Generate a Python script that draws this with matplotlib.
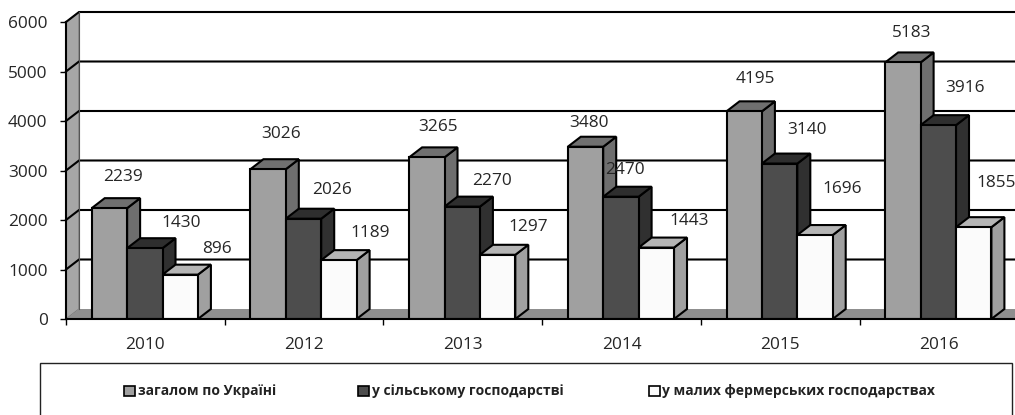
import matplotlib
matplotlib.use("Agg")
import matplotlib.pyplot as plt
from matplotlib.patches import Polygon, Rectangle

plt.rcParams['font.family'] = ['Open Sans', 'DejaVu Sans']

years = ["2010", "2012", "2013", "2014", "2015", "2016"]
total = [2239, 3026, 3265, 3480, 4195, 5183]
agriculture = [1430, 2026, 2270, 2470, 3140, 3916]
small_farms = [896, 1189, 1297, 1443, 1696, 1855]
series_names = ["загалом по Україні", "у сільському господарстві", "у малих фермерських господарствах"]
y_ticks = [0, 1000, 2000, 3000, 4000, 5000, 6000]

# label offsets from the bar top, in pixels
total_off = [(14, 31), (13, 35), (11, 30), (3, 24), (11, 32), (9, 29)]
agri_off = [(36, 25), (28, 29), (30, 26), (4, 27), (27, 34), (27, 37)]
small_off = [(37, 26), (31, 27), (31, 28), (33, 27), (27, 46), (22, 44)]

W, H = 1015, 415
fig = plt.figure(figsize=(W / 100, H / 100), dpi=100)
# px layout: y=0 at 319, 6000 at 22, x=0 at 66
ax = fig.add_axes([66 / W, 1 - 319 / H, (W - 66) / W, (319 - 22) / H])
xmax = (W - 66) / 158.7
ax.set_xlim(0, xmax)
ax.set_ylim(0, 6000)

dx = 13 / 158.7
dy = 10 / 49.5 * 1000
bar_w = 35.4 / 158.7
start = 0.162
lw = 1.5

# left wall and floor
ax.add_patch(Polygon([(0, 0), (dx, dy), (dx, 6000 + dy), (0, 6000)], closed=True,
                     facecolor="#a6a6a6", edgecolor="#777777", lw=0.8, clip_on=False, zorder=1))
ax.add_patch(Polygon([(0, 0), (dx, dy), (xmax + 1, dy), (xmax + 1, 0)], closed=True,
                     facecolor="#8f8f8f", edgecolor="none", clip_on=False, zorder=1))

# gridlines run along the back wall
for v in y_ticks[1:]:
    ax.plot([0, dx, xmax + 1], [v, v + dy, v + dy], color="black", lw=lw, clip_on=False, zorder=2)
ax.plot([dx, dx], [dy, 6000 + dy], color="#555555", lw=0.8, clip_on=False, zorder=2)

series = [total, agriculture, small_farms]
fronts = ["#a0a0a0", "#4d4d4d", "#fbfbfb"]
tops = ["#707070", "#2e2e2e", "#b5b5b5"]
sides = ["#6e6e6e", "#303030", "#a0a0a0"]
offsets = [total_off, agri_off, small_off]

z = 3
for i in range(len(years)):
    for s in range(3):
        val = series[s][i]
        x0 = i + start + s * bar_w
        x1 = x0 + bar_w
        ax.add_patch(Polygon([(x1, 0), (x1 + dx, dy), (x1 + dx, val + dy), (x1, val)], closed=True,
                             facecolor=sides[s], edgecolor="black", lw=lw, clip_on=False, zorder=z))
        ax.add_patch(Polygon([(x0, val), (x0 + dx, val + dy), (x1 + dx, val + dy), (x1, val)], closed=True,
                             facecolor=tops[s], edgecolor="black", lw=lw, clip_on=False, zorder=z))
        ax.bar(x0, val, width=bar_w, align="edge", color=fronts[s], edgecolor="black", lw=lw, zorder=z + 0.5)
        ax.annotate(str(val), xy=(x0 + bar_w / 2, val), xytext=offsets[s][i], textcoords="offset pixels",
                    ha="center", va="center", fontsize=12.4, color="#262626", zorder=50, annotation_clip=False)
        z += 1

for name in ["top", "right"]:
    ax.spines[name].set_visible(False)
ax.spines["left"].set_linewidth(lw)
ax.spines["bottom"].set_linewidth(lw)
ax.spines["bottom"].set_zorder(40)

ax.set_yticks(y_ticks)
ax.tick_params(axis="y", length=4.3, width=1, pad=9, labelsize=12.4, labelcolor="#262626")
ax.set_xticks([i for i in range(len(years))])
ax.set_xticklabels([])
ax.set_xticks([i + 0.5 for i in range(len(years))], minor=True)
ax.set_xticklabels(years, minor=True)
ax.tick_params(axis="x", which="major", length=4.3, width=1)
ax.tick_params(axis="x", which="minor", length=0, pad=13, labelsize=12.4, labelcolor="#262626")

# legend box, its bottom edge falls off the picture
def fx(p):
    return p / W
def fy(p):
    return 1 - p / H

fig.add_artist(Rectangle((fx(40), fy(440)), fx(972), fy(363) - fy(440), transform=fig.transFigure,
                         facecolor="white", edgecolor="#222222", lw=1))
sw_x = [124, 358, 649]
txt_x = [138, 372, 662]
for s in range(3):
    fig.add_artist(Rectangle((fx(sw_x[s]), fy(396)), 11 / W, 10 / H, transform=fig.transFigure,
                             facecolor=fronts[s], edgecolor="black", lw=1.2))
    fig.text(fx(txt_x[s]), fy(391), series_names[s], ha="left", va="center", fontsize=10,
             fontweight="bold", color="#222222")

fig.savefig("out.png", dpi=100)
